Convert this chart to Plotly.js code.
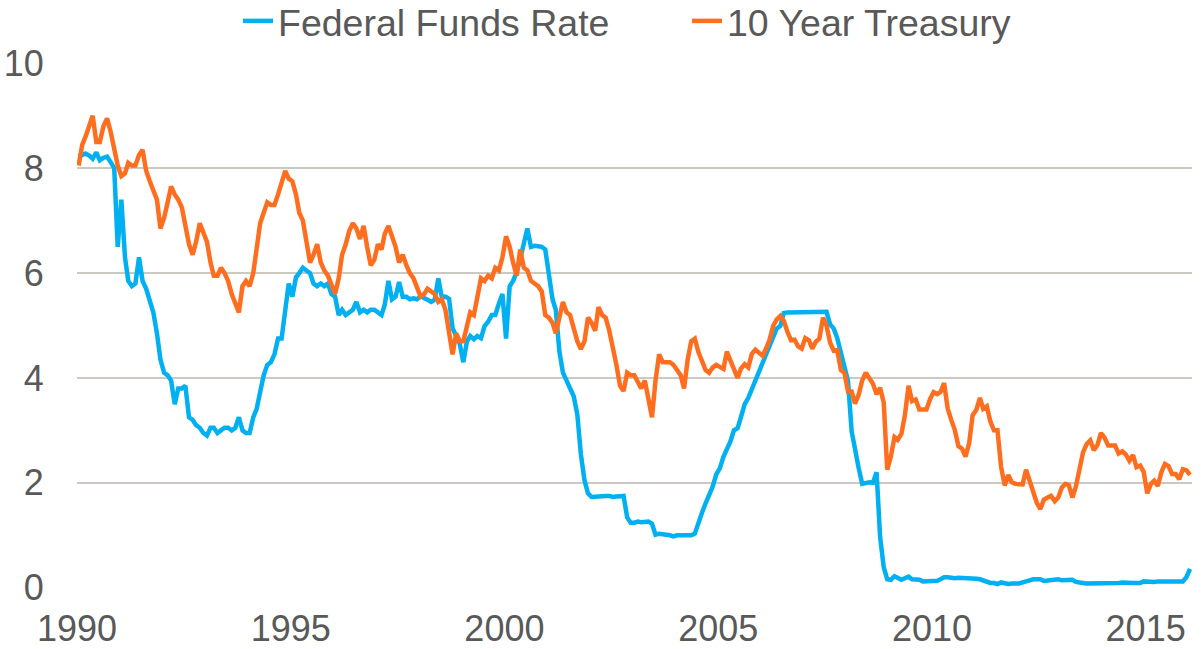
<!DOCTYPE html>
<html>
<head>
<meta charset="utf-8">
<script src="https://cdn.plot.ly/plotly-3.0.1.min.js"></script>
<style>
  html, body { margin: 0; padding: 0; background: #ffffff; }
  #chart { width: 1202px; height: 649px; }
</style>
</head>
<body>
<div id="chart"></div>
<script>
// Monthly values, January 1990 through January 2016
const startYear = 1990;

const fedFundsRate = [
  // 1990
  8.22, 8.25, 8.28, 8.24, 8.18, 8.30, 8.15, 8.20, 8.22, 8.12, 8.00, 6.50,
  // 1991
  7.40, 6.30, 5.85, 5.75, 5.80, 6.30, 5.85, 5.70, 5.50, 5.25, 4.85, 4.35,
  // 1992
  4.10, 4.05, 3.95, 3.50, 3.80, 3.80, 3.85, 3.25, 3.20, 3.10, 3.05, 2.95,
  // 1993
  2.90, 3.05, 3.05, 2.95, 3.00, 3.05, 3.05, 3.00, 3.05, 3.25, 3.00, 2.95,
  // 1994
  2.95, 3.25, 3.40, 3.70, 4.05, 4.25, 4.30, 4.45, 4.75, 4.75, 5.30, 5.80,
  // 1995
  5.55, 5.92, 6.00, 6.10, 6.05, 6.00, 5.80, 5.75, 5.80, 5.75, 5.80, 5.60,
  // 1996
  5.55, 5.20, 5.30, 5.20, 5.25, 5.30, 5.45, 5.25, 5.30, 5.25, 5.30, 5.30,
  // 1997
  5.25, 5.20, 5.40, 5.85, 5.50, 5.55, 5.83, 5.55, 5.55, 5.50, 5.52, 5.50,
  // 1998
  5.56, 5.51, 5.49, 5.45, 5.49, 5.90, 5.54, 5.55, 5.51, 4.95, 4.80, 4.65,
  // 1999
  4.30, 4.70, 4.80, 4.74, 4.80, 4.76, 4.99, 5.07, 5.20, 5.20, 5.42, 5.60,
  // 2000
  4.75, 5.75, 5.85, 6.02, 6.27, 6.53, 6.85, 6.50, 6.52, 6.51, 6.50, 6.45,
  // 2001
  5.95, 5.50, 5.30, 4.50, 4.10, 3.95, 3.80, 3.65, 3.30, 2.55, 2.05, 1.80,
  // 2002
  1.73, 1.74, 1.73, 1.75, 1.75, 1.75, 1.73, 1.74, 1.75, 1.75, 1.34, 1.24,
  // 2003
  1.24, 1.26, 1.25, 1.26, 1.26, 1.22, 1.01, 1.03, 1.01, 1.01, 1.00, 0.98,
  // 2004
  1.00, 1.01, 1.00, 1.00, 1.00, 1.03, 1.26, 1.43, 1.61, 1.76, 1.93, 2.16,
  // 2005
  2.28, 2.50, 2.63, 2.79, 3.00, 3.04, 3.26, 3.50, 3.62, 3.78, 4.00, 4.16,
  // 2006
  4.29, 4.49, 4.59, 4.79, 4.94, 4.99, 5.24, 5.25, 5.25, 5.25, 5.25, 5.24,
  // 2007
  5.25, 5.26, 5.26, 5.25, 5.25, 5.25, 5.26, 5.02, 4.94, 4.76, 4.49, 4.24,
  // 2008
  3.94, 2.98, 2.61, 2.28, 1.98, 2.00, 2.01, 2.00, 2.20, 0.97, 0.39, 0.16,
  // 2009
  0.15, 0.22, 0.18, 0.15, 0.18, 0.21, 0.16, 0.16, 0.15, 0.12, 0.12, 0.12,
  // 2010
  0.11, 0.13, 0.16, 0.20, 0.20, 0.18, 0.18, 0.19, 0.19, 0.19, 0.19, 0.18,
  // 2011
  0.17, 0.16, 0.14, 0.10, 0.09, 0.09, 0.07, 0.10, 0.08, 0.07, 0.08, 0.07,
  // 2012
  0.08, 0.10, 0.13, 0.14, 0.16, 0.16, 0.16, 0.13, 0.14, 0.16, 0.16, 0.16,
  // 2013
  0.14, 0.15, 0.14, 0.15, 0.11, 0.09, 0.09, 0.08, 0.08, 0.09, 0.08, 0.09,
  // 2014
  0.07, 0.07, 0.08, 0.09, 0.09, 0.10, 0.09, 0.09, 0.09, 0.09, 0.09, 0.12,
  // 2015
  0.11, 0.11, 0.11, 0.12, 0.12, 0.13, 0.13, 0.14, 0.14, 0.12, 0.12, 0.20,
  // 2016
  0.36
];

const tenYearTreasury = [
  // 1990
  8.05, 8.45, 8.60, 8.80, 9.00, 8.50, 8.50, 8.80, 8.95, 8.70, 8.35, 8.05,
  // 1991
  7.85, 7.90, 8.10, 8.05, 8.05, 8.25, 8.35, 7.95, 7.75, 7.55, 7.40, 6.85,
  // 1992
  7.05, 7.35, 7.65, 7.50, 7.40, 7.25, 6.85, 6.55, 6.35, 6.60, 6.95, 6.75,
  // 1993
  6.60, 6.20, 5.95, 5.95, 6.10, 6.00, 5.85, 5.60, 5.40, 5.25, 5.75, 5.85,
  // 1994
  5.75, 6.00, 6.45, 6.95, 7.15, 7.35, 7.30, 7.30, 7.50, 7.75, 7.95, 7.80,
  // 1995
  7.75, 7.50, 7.15, 7.00, 6.55, 6.20, 6.35, 6.55, 6.20, 6.05, 5.95, 5.75,
  // 1996
  5.60, 5.90, 6.35, 6.55, 6.80, 6.95, 6.85, 6.65, 6.90, 6.50, 6.15, 6.25,
  // 1997
  6.55, 6.45, 6.75, 6.90, 6.70, 6.50, 6.20, 6.35, 6.15, 6.00, 5.90, 5.75,
  // 1998
  5.55, 5.60, 5.70, 5.65, 5.60, 5.45, 5.50, 5.30, 4.80, 4.45, 4.85, 4.70,
  // 1999
  4.70, 5.00, 5.25, 5.20, 5.55, 5.90, 5.85, 5.95, 5.90, 6.10, 6.05, 6.30,
  // 2000
  6.70, 6.50, 6.20, 5.95, 6.45, 6.10, 6.05, 5.85, 5.80, 5.75, 5.65, 5.20,
  // 2001
  5.15, 5.05, 4.85, 5.15, 5.45, 5.25, 5.20, 4.95, 4.70, 4.55, 4.70, 5.15,
  // 2002
  5.05, 4.90, 5.35, 5.20, 5.15, 4.90, 4.60, 4.25, 3.85, 3.75, 4.10, 4.05,
  // 2003
  4.05, 3.90, 3.80, 3.95, 3.55, 3.25, 3.95, 4.45, 4.30, 4.30, 4.30, 4.25,
  // 2004
  4.15, 4.05, 3.80, 4.35, 4.70, 4.75, 4.50, 4.30, 4.15, 4.10, 4.20, 4.25,
  // 2005
  4.22, 4.17, 4.50, 4.34, 4.14, 4.00, 4.18, 4.26, 4.20, 4.46, 4.54, 4.47,
  // 2006
  4.42, 4.57, 4.72, 4.99, 5.11, 5.18, 5.09, 4.88, 4.72, 4.73, 4.60, 4.56,
  // 2007
  4.76, 4.72, 4.56, 4.69, 4.75, 5.15, 5.00, 4.67, 4.52, 4.53, 4.15, 4.10,
  // 2008
  3.74, 3.74, 3.51, 3.68, 3.95, 4.10, 4.01, 3.89, 3.69, 3.81, 3.53, 2.25,
  // 2009
  2.50, 2.87, 2.82, 2.93, 3.29, 3.85, 3.56, 3.59, 3.40, 3.39, 3.40, 3.59,
  // 2010
  3.73, 3.69, 3.73, 3.90, 3.42, 3.20, 3.01, 2.70, 2.65, 2.50, 2.76, 3.29,
  // 2011
  3.39, 3.62, 3.41, 3.46, 3.17, 3.00, 3.00, 2.30, 1.95, 2.15, 2.01, 1.98,
  // 2012
  1.97, 1.97, 2.25, 2.05, 1.80, 1.62, 1.50, 1.68, 1.72, 1.75, 1.65, 1.72,
  // 2013
  1.91, 1.98, 1.96, 1.72, 1.93, 2.30, 2.58, 2.74, 2.81, 2.62, 2.72, 2.95,
  // 2014
  2.86, 2.71, 2.72, 2.71, 2.56, 2.60, 2.54, 2.42, 2.53, 2.30, 2.33, 2.21,
  // 2015
  1.80, 1.98, 2.04, 1.94, 2.20, 2.36, 2.32, 2.17, 2.17, 2.07, 2.26, 2.24,
  // 2016
  2.15
];

const xTickDates = ['1990-01-01', '1995-01-01', '2000-01-01', '2005-01-01', '2010-01-01', '2015-01-01'];
const xTickLabels = ['1990', '1995', '2000', '2005', '2010', '2015'];
const yTickValues = [0, 2, 4, 6, 8, 10];
const seriesNames = ['Federal Funds Rate', '10 Year Treasury'];

// Month dates (mid-month) for each observation
const monthDates = fedFundsRate.map(function (_, i) {
  const y = startYear + Math.floor(i / 12);
  const m = (i % 12) + 1;
  return y + '-' + (m < 10 ? '0' + m : m) + '-15';
});

const fontFamily = '"Liberation Sans", Arial, Helvetica, sans-serif';
const textColor = '#595959';

const traces = [
  {
    type: 'scatter', mode: 'lines', name: seriesNames[0],
    x: monthDates, y: fedFundsRate,
    line: { color: '#00b0f0', width: 4.5 },
    legend: 'legend'
  },
  {
    type: 'scatter', mode: 'lines', name: seriesNames[1],
    x: monthDates, y: tenYearTreasury,
    line: { color: '#ff6d1f', width: 4.5 },
    legend: 'legend2'
  }
];

const legendBase = {
  orientation: 'h', yanchor: 'middle', xanchor: 'left',
  y: 1.08, bgcolor: 'rgba(0,0,0,0)', borderwidth: 0,
  font: { family: fontFamily, size: 37.5, color: textColor }
};

const layout = {
  width: 1202, height: 649,
  margin: { l: 77, r: 10, t: 63, b: 61, pad: 0, autoexpand: false },
  paper_bgcolor: '#ffffff', plot_bgcolor: '#ffffff',
  font: { family: fontFamily, size: 36, color: textColor },
  showlegend: true,
  legend: Object.assign({}, legendBase, { x: 0.1444 }),
  legend2: Object.assign({}, legendBase, { x: 0.5471 }),
  xaxis: {
    type: 'date',
    range: ['1990-01-01', '2016-02-01'],
    tickmode: 'array', tickvals: xTickDates, ticktext: xTickLabels,
    showgrid: false, zeroline: false, showline: false,
    ticks: 'outside', ticklen: 9, tickcolor: 'rgba(0,0,0,0)',
    tickfont: { family: fontFamily, size: 36, color: textColor },
    automargin: false
  },
  yaxis: {
    range: [-0.006, 10.006],
    tickmode: 'array', tickvals: yTickValues,
    showgrid: true, gridcolor: '#cbc9c2', gridwidth: 2,
    zeroline: false, showline: false,
    ticks: 'outside', ticklen: 25, tickcolor: 'rgba(0,0,0,0)',
    tickfont: { family: fontFamily, size: 36, color: textColor },
    automargin: false
  }
};

Plotly.newPlot('chart', traces, layout, { staticPlot: true, displayModeBar: false });
</script>
</body>
</html>
